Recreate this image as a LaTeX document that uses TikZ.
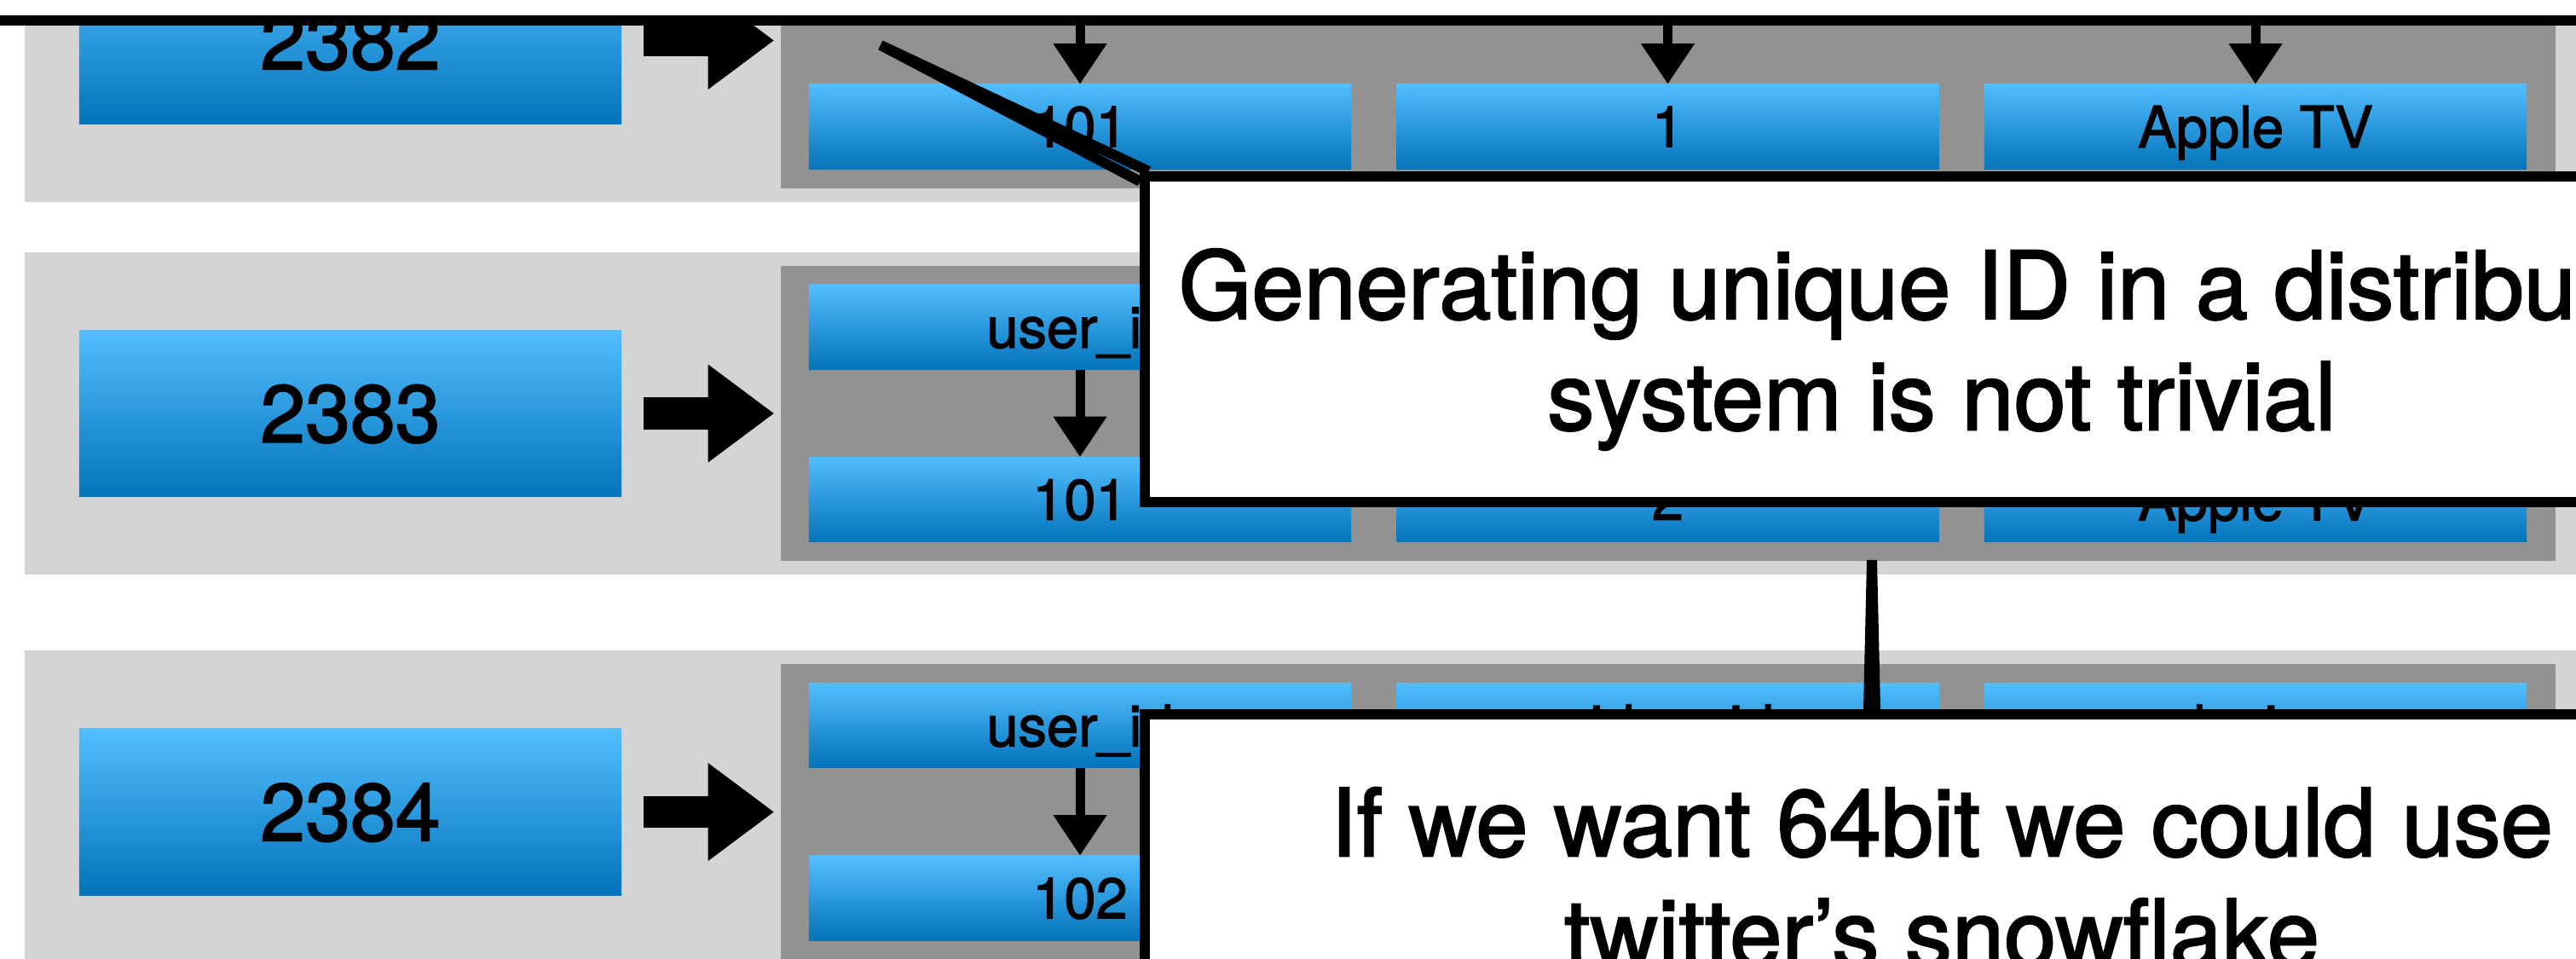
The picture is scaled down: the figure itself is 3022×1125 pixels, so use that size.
\documentclass[tikz,border=0pt]{standalone}
\usepackage{fontspec}
\setmainfont{TeX Gyre Heros}[FakeBold=2]
\usetikzlibrary{arrows.meta}

\definecolor{rowgrey}{HTML}{D4D4D4}
\definecolor{slotgrey}{HTML}{929292}
\definecolor{celltop}{HTML}{52BEFE}
\definecolor{cellbot}{HTML}{0373BB}

\tikzset{
    rowband/.style={fill=rowgrey, minimum width=30.3cm, minimum height=3.78cm, inner sep=0pt},
    slot/.style={fill=slotgrey, minimum width=20.8cm, minimum height=3.46cm, inner sep=0pt},
    idcell/.style={top color=celltop, bottom color=cellbot, minimum width=6.36cm, minimum height=1.95cm,
        inner sep=0pt, text depth=0pt, font=\fontsize{27pt}{32pt}\selectfont},
    cell/.style={top color=celltop, bottom color=cellbot, minimum width=6.36cm, minimum height=0.99cm,
        inner sep=0pt, text depth=0pt, font=\fontsize{19pt}{23pt}\selectfont},
    note/.style={draw=black, line width=0.12cm, fill=white, minimum width=18.68cm, minimum height=3.82cm,
        inner sep=0pt, align=center, text depth=0pt, font=\fontsize{31.3pt}{37pt}\selectfont},
    pointer/.style={line width=0.12cm},
    fatarrow/.style={line width=0.37cm, -{Triangle[length=0.77cm, width=1.15cm, line width=0pt]}},
    fieldarrow/.style={line width=0.11cm, -{Triangle[length=0.47cm, width=0.63cm, line width=0pt]}},
}

\begin{document}
\begin{tikzpicture}[x=0.01cm, y=-0.01cm]
    \useasboundingbox (0,0) rectangle (3022,1125);
    \clip (0,0) rectangle (3022,1125);
    \fill[white] (0,0) rectangle (3022,1125);

    % row 2382
    \node[rowband] (band1) at (1545,47.5) {};
    \node[slot] (slot1) at (1957,47.5) {};
    \node[idcell] (id1) at (411,47.5) {2382};
    \node[cell] (user1) at (1267,-54) {};
    \node[cell] (video1) at (1956.5,-54) {};
    \node[cell] (device1) at (2646,-54) {};
    \node[cell] (userval1) at (1267,148.5) {101};
    \node[cell] (videoval1) at (1956.5,148.5) {1};
    \node[cell] (deviceval1) at (2646,148.5) {Apple TV};
    \draw[fatarrow] ([xshift=0.25cm]id1.east) -- ([xshift=-0.08cm]slot1.west);
    \draw[fieldarrow] (user1) -- (userval1);
    \draw[fieldarrow] (video1) -- (videoval1);
    \draw[fieldarrow] (device1) -- (deviceval1);

    % row 2383
    \node[rowband] (band2) at (1545,485) {};
    \node[slot] (slot2) at (1957,485) {};
    \node[idcell] (id2) at (411,485) {2383};
    \node[cell] (user2) at (1267,383.5) {user\_id};
    \node[cell] (video2) at (1956.5,383.5) {};
    \node[cell] (device2) at (2646,383.5) {};
    \node[cell] (userval2) at (1267,586) {101};
    \node[cell] (videoval2) at (1956.5,586) {2};
    \node[cell] (deviceval2) at (2646,586) {Apple TV};
    \draw[fatarrow] ([xshift=0.25cm]id2.east) -- ([xshift=-0.08cm]slot2.west);
    \draw[fieldarrow] (user2) -- (userval2);
    \draw[fieldarrow] (video2) -- (videoval2);
    \draw[fieldarrow] (device2) -- (deviceval2);

    % row 2384
    \node[rowband, minimum height=4.5cm] (band3) at (1545,988) {};
    \node[slot, minimum height=4.2cm] (slot3) at (1957,989) {};
    \node[idcell] (id3) at (411,952.5) {2384};
    \node[cell] (user3) at (1267,851) {user\_id};
    \node[cell] (video3) at (1956.5,851) {video\_id};
    \node[cell] (device3) at (2646,851) {device};
    \node[cell] (userval3) at (1267,1053.5) {102};
    \node[cell] (videoval3) at (1956.5,1053.5) {};
    \node[cell] (deviceval3) at (2646,1053.5) {};
    \draw[fatarrow] ([xshift=0.25cm]id3.east) -- ([xshift=-0.08cm]id3.east -| slot3.west);
    \draw[fieldarrow] (user3) -- (userval3);
    \draw[fieldarrow] (video3) -- (videoval3);
    \draw[fieldarrow] (device3) -- (deviceval3);

    % callouts
    \node[note, minimum width=38.12cm] (noteTop) at (1306,-167.5) {};

    \node[note] (note1) at (2278,398) {Generating unique ID in a distributed\\system is not trivial};
    \coordinate (tip1) at (1033,53);
    \draw[pointer] ([yshift=-0.12cm]note1.north west) -- (tip1) -- ([xshift=0.1cm]note1.north west);

    \node[note] (note2) at (2278,1029) {If we want 64bit we could use\\twitter’s snowflake};
    \coordinate (tip2) at (2196,657);
    \coordinate (base2) at (tip2 |- note2.north);
    \draw[pointer] ([xshift=-0.04cm]base2) -- (tip2) -- ([xshift=0.04cm]base2);
\end{tikzpicture}
\end{document}
